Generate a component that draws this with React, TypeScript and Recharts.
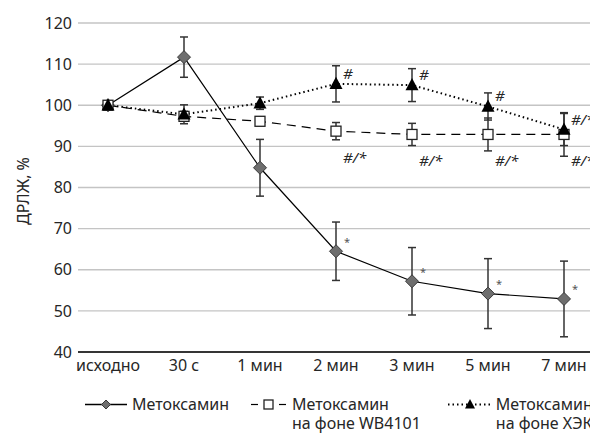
import React from 'react';
import {
    LineChart,
    Line,
    XAxis,
    YAxis,
    CartesianGrid,
    ErrorBar,
    LabelList,
    Legend,
    Label,
} from 'recharts';

// time points
const timeLabels = ['исходно', '30 с', '1 мин', '2 мин', '3 мин', '5 мин', '7 мин'];

// Метоксамин
const metoxamine = [100, 111.7, 84.8, 64.5, 57.2, 54.2, 52.9];
const metoxamineErr = [0, 4.9, 6.9, 7.1, 8.2, 8.5, 9.2];
const metoxamineMarks = ['', '', '', '*', '*', '*', '*'];

// Метоксамин на фоне WB4101
const withWB = [100, 97.3, 96.1, 93.7, 92.9, 92.9, 92.9];
const withWBErr = [0.8, 1.2, 1.0, 2.1, 2.7, 4.0, 5.3];
const withWBMarks = ['', '', '', '#/*', '#/*', '#/*', '#/*'];

// Метоксамин на фоне ХЭК
const withHEK = [100, 97.8, 100.5, 105.2, 104.9, 99.7, 94.1];
const withHEKErr = [0.8, 2.3, 1.5, 4.4, 4.0, 3.3, 3.9];
const withHEKMarks = ['', '', '', '#', '#', '#', '#/*'];

const yTicks = [40, 50, 60, 70, 80, 90, 100, 110, 120];
const seriesNames = ['Метоксамин', 'Метоксамин\nна фоне WB4101', 'Метоксамин\nна фоне ХЭК'];

const data = timeLabels.map((t, i) => ({
    t,
    m: metoxamine[i],
    mErr: metoxamineErr[i],
    mMark: metoxamineMarks[i],
    wb: withWB[i],
    wbErr: withWBErr[i],
    wbMark: withWBMarks[i],
    hek: withHEK[i],
    hekErr: withHEKErr[i],
    hekMark: withHEKMarks[i],
}));

const FONT = '"Noto Sans", "Open Sans", sans-serif';
const TEXT = '#262626';

const Diamond = ({ cx, cy, r = 6.5 }: any) => (
    <polygon
        points={`${cx},${cy - r} ${cx + r},${cy} ${cx},${cy + r} ${cx - r},${cy}`}
        fill="#6e6e6e"
        stroke="#3a3a3a"
        strokeWidth={1}
    />
);

const Square = ({ cx, cy, s = 10 }: any) => (
    <rect x={cx - s / 2} y={cy - s / 2} width={s} height={s} fill="#fff" stroke="#222" strokeWidth={1.3} />
);

const Triangle = ({ cx, cy, r = 6.5 }: any) => (
    <polygon
        points={`${cx},${cy - r - 0.5} ${cx + r},${cy + r * 0.8} ${cx - r},${cy + r * 0.8}`}
        fill="#000"
    />
);

const markLabel = (dx: number, dy: number, size: number, color: string, italic: boolean) => (props: any) => {
    const { x, y, value } = props;
    if (!value) return null;
    return (
        <text
            x={x + dx}
            y={y + dy}
            fontSize={size}
            fill={color}
            fontStyle={italic ? 'italic' : 'normal'}
            fontFamily={FONT}
            dominantBaseline="central"
        >
            {value}
        </text>
    );
};

const legendKinds = ['diamond', 'square', 'triangle'];
const legendGaps = [0, 21, 27];

const LegendIcon = ({ kind }: { kind: string }) => {
    if (kind === 'diamond') {
        return (
            <svg width={42} height={19}>
                <line x1={0} y1={9.5} x2={42} y2={9.5} stroke="#000" strokeWidth={1.3} />
                <Diamond cx={21} cy={9.5} r={4.5} />
            </svg>
        );
    }
    if (kind === 'square') {
        return (
            <svg width={37} height={19}>
                <line x1={1} y1={9.5} x2={8} y2={9.5} stroke="#000" strokeWidth={1.2} />
                <Square cx={18.5} cy={9.5} s={9} />
                <line x1={29} y1={9.5} x2={36} y2={9.5} stroke="#000" strokeWidth={1.2} />
            </svg>
        );
    }
    return (
        <svg width={44} height={19}>
            <line x1={0} y1={9.5} x2={44} y2={9.5} stroke="#000" strokeWidth={2} strokeDasharray="1.5 3" />
            <Triangle cx={22} cy={9.5} r={5} />
        </svg>
    );
};

const renderLegend = (props: any) => {
    const payload = props.payload || [];
    const names = payload.length ? payload.map((p: any) => p.value) : seriesNames;
    return (
        <div
            style={{
                height: 51,
                boxSizing: 'border-box',
                paddingTop: 13,
                paddingLeft: 85,
                display: 'flex',
                alignItems: 'flex-start',
                fontFamily: FONT,
                fontSize: 16,
                lineHeight: '19px',
                color: TEXT,
                whiteSpace: 'nowrap',
            }}
        >
            {names.map((name: string, i: number) => (
                <div key={i} style={{ display: 'flex', alignItems: 'flex-start', marginLeft: legendGaps[i] }}>
                    <LegendIcon kind={legendKinds[i]} />
                    <div style={{ marginLeft: i === 2 ? 4 : 5 }}>
                        {String(name).split('\n').map((line, j) => (
                            <div key={j}>{line}</div>
                        ))}
                    </div>
                </div>
            ))}
        </div>
    );
};

export default function App() {
    return (
        <div style={{ position: 'absolute', left: 0, top: 0, width: 590, height: 433, overflow: 'hidden', background: '#fff' }}>
            <LineChart
                width={600}
                height={433}
                data={data}
                margin={{ top: 23, right: 6, bottom: 0, left: 0 }}
                style={{ fontFamily: FONT }}
            >
                <CartesianGrid vertical={false} stroke="#c4c4c4" strokeWidth={1.3} />
                <XAxis
                    dataKey="t"
                    interval={0}
                    height={30}
                    padding={{ left: 30, right: 30 }}
                    tickLine={false}
                    axisLine={{ stroke: '#000', strokeWidth: 1.5 }}
                    tick={{ fontSize: 16, fill: TEXT, fontFamily: FONT }}
                />
                <YAxis
                    domain={[40, 120]}
                    ticks={yTicks}
                    interval={0}
                    width={78}
                    tickLine={false}
                    axisLine={false}
                    tickMargin={0}
                    tick={{ fontSize: 16, fill: TEXT, fontFamily: FONT }}
                >
                    <Label
                        content={() => (
                            <text
                                transform="translate(23,191) rotate(-90)"
                                textAnchor="middle"
                                dominantBaseline="central"
                                fontSize={16}
                                fill={TEXT}
                                fontFamily={FONT}
                            >
                                ДРЛЖ, %
                            </text>
                        )}
                    />
                </YAxis>
                <Legend verticalAlign="bottom" align="left" content={renderLegend} wrapperStyle={{ left: 0, width: 600 }} />
                <Line
                    dataKey="m"
                    name={seriesNames[0]}
                    stroke="#000"
                    strokeWidth={1.2}
                    isAnimationActive={false}
                    dot={(p: any) => <Diamond key={p.index} cx={p.cx} cy={p.cy} />}
                >
                    <ErrorBar dataKey="mErr" width={4} stroke="#333" strokeWidth={1.5} direction="y" />
                    <LabelList dataKey="mMark" content={markLabel(8, -10, 11, '#555', false)} />
                </Line>
                <Line
                    dataKey="wb"
                    name={seriesNames[1]}
                    stroke="#000"
                    strokeWidth={1.2}
                    strokeDasharray="9 6"
                    isAnimationActive={false}
                    dot={(p: any) => <Square key={p.index} cx={p.cx} cy={p.cy} />}
                >
                    <ErrorBar dataKey="wbErr" width={4} stroke="#333" strokeWidth={1.5} direction="y" />
                    <LabelList dataKey="wbMark" content={markLabel(7, 26, 15, TEXT, true)} />
                </Line>
                <Line
                    dataKey="hek"
                    name={seriesNames[2]}
                    stroke="#000"
                    strokeWidth={2}
                    strokeDasharray="1.5 3"
                    isAnimationActive={false}
                    dot={(p: any) => <Triangle key={p.index} cx={p.cx} cy={p.cy} />}
                >
                    <ErrorBar dataKey="hekErr" width={4} stroke="#333" strokeWidth={1.5} direction="y" />
                    <LabelList dataKey="hekMark" content={markLabel(7, -11, 15, TEXT, true)} />
                </Line>
            </LineChart>
        </div>
    );
}
